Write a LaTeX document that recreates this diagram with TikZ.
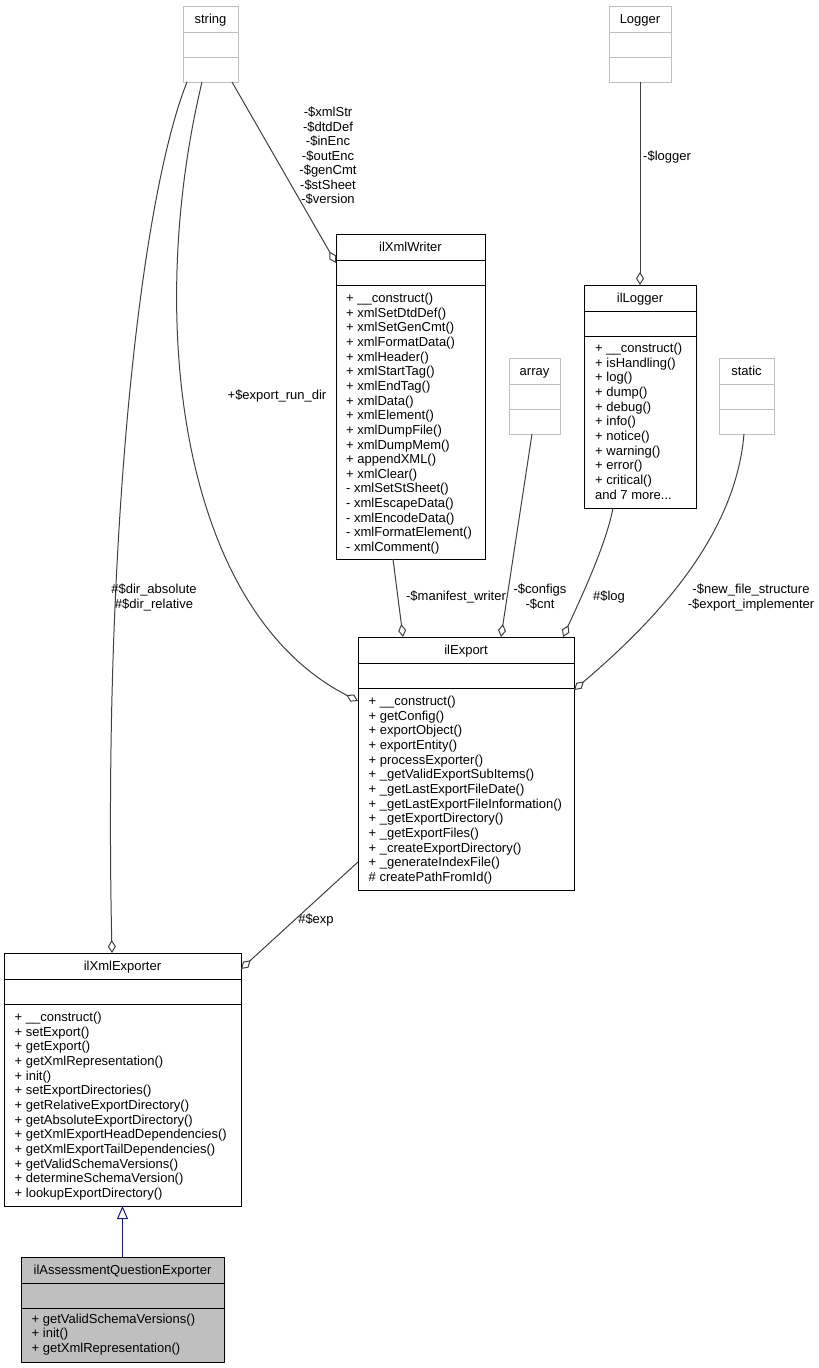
\documentclass[tikz,border=0pt]{standalone}
\usepackage{fontspec}
\setmainfont{Liberation Sans}
\usetikzlibrary{arrows.meta}
\definecolor{edgegray}{HTML}{404040}
\definecolor{undoc}{HTML}{BFBFBF}
\definecolor{inhblue}{HTML}{191970}
\definecolor{curfill}{HTML}{BFBFBF}
\newcommand\mythreedots{...}
\tikzset{
  every node/.style={font=\fontsize{13}{14.65}\selectfont},
  clsbox/.style={line width=1pt, inner sep=0pt, outer sep=0pt, anchor=north west},
  divline/.style={line width=1pt},
  ttl/.style={anchor=base, inner sep=0pt},
  mem/.style={anchor=base west, inner sep=0pt},
  agg/.style={draw=edgegray, line width=1pt, -{Diamond[open, length=13pt, width=8pt]}},
  inhline/.style={draw=inhblue, line width=1pt, -{Triangle[open, length=13pt, width=11pt]}},
  lbl/.style={inner sep=0pt, align=center, font=\fontsize{13}{14.5}\selectfont},
}
% [fill]{name}{border colour}{x}{y}{w}{h}{title}
\newcommand\umlbox[8][white]{%
  \node[clsbox, draw=#3, fill=#1, minimum width=#6pt, minimum height=#7pt] (#2) at (#4,#5) {};
  \draw[divline, draw=#3] ([yshift=-26pt]#2.north west) -- ([yshift=-26pt]#2.north east);
  \draw[divline, draw=#3] ([yshift=-51pt]#2.north west) -- ([yshift=-51pt]#2.north east);
  \node[ttl] (#2-title) at ([yshift=-17pt]#2.north) {#8};
}
% {name}{x}{first baseline y}{list}
\newcommand\umlmembers[4]{%
  \foreach \t [count=\i] in {#4} {\node[mem] (#1-m\i) at (#2, {#3+14.65*(\i-1)}) {\t};}
}
\begin{document}
\begin{tikzpicture}[x=1pt, y=-1pt]
\useasboundingbox (0,0) rectangle (819,1368);

% ---------- classes ----------
\umlbox{string}{undoc}{183}{6}{55}{76}{string}
\umlbox{Logger}{undoc}{609}{6}{62}{76}{Logger}
\umlbox{ilXmlWriter}{black}{336}{234}{149}{325}{ilXmlWriter}
\umlbox{ilLogger}{black}{584}{285}{112}{223}{ilLogger}
\umlbox{array}{undoc}{509}{358}{51}{76}{array}
\umlbox{static}{undoc}{719}{358}{55}{76}{static}
\umlbox{ilExport}{black}{358}{637}{216}{253}{ilExport}
\umlbox{ilXmlExporter}{black}{4}{953}{237}{253}{ilXmlExporter}
\umlbox[curfill]{AQE}{black}{21}{1257}{203}{105}{ilAssessmentQuestionExporter}

\umlmembers{ilXmlWriter}{346}{302.5}{+ \_\_construct(), + xmlSetDtdDef(), + xmlSetGenCmt(), + xmlFormatData(), + xmlHeader(), + xmlStartTag(), + xmlEndTag(), + xmlData(), + xmlElement(), + xmlDumpFile(), + xmlDumpMem(), + appendXML(), + xmlClear(), - xmlSetStSheet(), - xmlEscapeData(), - xmlEncodeData(), - xmlFormatElement(), - xmlComment()}
\umlmembers{ilLogger}{595}{352.5}{+ \_\_construct(), + isHandling(), + log(), + dump(), + debug(), + info(), + notice(), + warning(), + error(), + critical(), and 7 more\mythreedots}
\umlmembers{ilExport}{368.5}{705.5}{+ \_\_construct(), + getConfig(), + exportObject(), + exportEntity(), + processExporter(), + \_getValidExportSubItems(), + \_getLastExportFileDate(), + \_getLastExportFileInformation(), + \_getExportDirectory(), + \_getExportFiles(), + \_createExportDirectory(), + \_generateIndexFile(), \# createPathFromId()}
\umlmembers{ilXmlExporter}{14.5}{1021.5}{+ \_\_construct(), + setExport(), + getExport(), + getXmlRepresentation(), + init(), + setExportDirectories(), + getRelativeExportDirectory(), + getAbsoluteExportDirectory(), + getXmlExportHeadDependencies(), + getXmlExportTailDependencies(), + getValidSchemaVersions(), + determineSchemaVersion(), + lookupExportDirectory()}
\umlmembers{AQE}{31.5}{1323}{+ getValidSchemaVersions(), + init(), + getXmlRepresentation()}

% ---------- connectors ----------
\draw[agg] ([xshift=-6pt]string.south east) -- ([yshift=-29pt]ilXmlWriter.north west);
\draw[agg] ([xshift=19pt]string.south west) .. controls (145,320) and (180,610) .. ([yshift=-64pt]ilExport.north west);
\draw[agg] ([xshift=4pt]string.south west) .. controls (140,200) and (103,540) .. ([xshift=108pt]ilXmlExporter.north west);
\draw[agg] (Logger.south) -- (ilLogger.north);
\draw[agg] ([xshift=57pt]ilXmlWriter.south west) -- ([xshift=45pt]ilExport.north west);
\draw[agg] ([xshift=23pt]array.south west) -- ([xshift=143pt]ilExport.north west);
\draw[agg] ([xshift=29pt]ilLogger.south west) .. controls (606,545) and (580,600) .. ([xshift=205pt]ilExport.north west);
\draw[agg] ([xshift=25pt]static.south west) .. controls (735,540) and (650,625) .. ([yshift=-53pt]ilExport.north east);
\draw[agg] ([yshift=-225pt]ilExport.north west) -- ([yshift=-16pt]ilXmlExporter.north east);
\draw[inhline] (AQE.north) -- (AQE.north |- ilXmlExporter.south);

% ---------- labels ----------
\node[lbl, anchor=north] (l-writer) at (328,107) {-\$xmlStr\\-\$dtdDef\\-\$inEnc\\-\$outEnc\\-\$genCmt\\-\$stSheet\\-\$version};
\node[lbl] (l-rundir) at (277,396) {+\$export\_run\_dir};
\node[lbl, anchor=north] (l-dir) at (154,584) {\#\$dir\_absolute\\\#\$dir\_relative};
\node[lbl, anchor=west] (l-logger) at (643,157) {-\$logger};
\node[lbl] (l-manifest) at (456,597) {-\$manifest\_writer};
\node[lbl, anchor=north] (l-configs) at (540,584) {-\$configs\\-\$cnt};
\node[lbl] (l-log) at (609,597) {\#\$log};
\node[lbl, anchor=north] (l-static) at (751,584) {-\$new\_file\_structure\\-\$export\_implementer};
\node[lbl] (l-exp) at (316,920) {\#\$exp};
\end{tikzpicture}
\end{document}
